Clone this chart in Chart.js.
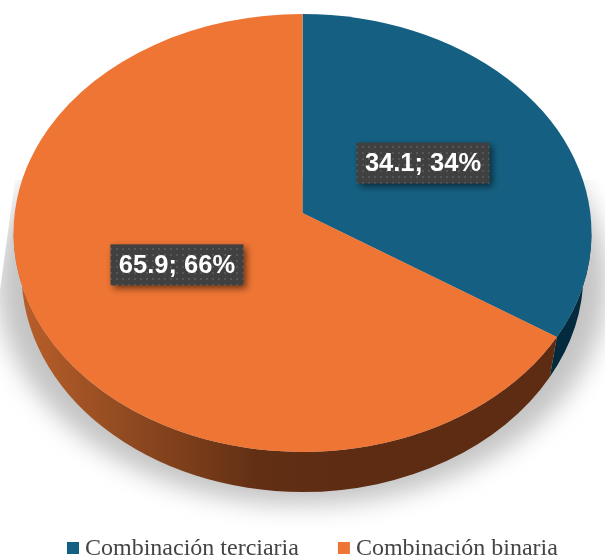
<!DOCTYPE html>
<html>
<head>
<meta charset="utf-8">
<style>
  html, body { margin: 0; padding: 0; background: #fff; overflow: hidden; }
  canvas { display: block; }
</style>
<script src="https://cdn.jsdelivr.net/npm/chart.js@4/dist/chart.umd.js"></script>
</head>
<body>
<canvas id="pie" width="605" height="556"></canvas>
<script>
const categories = ['Combinación terciaria', 'Combinación binaria'];
const values = [34.1, 65.9];
const colors = ['#156082', '#EF7534'];

// Top face of the tilted pie: an ellipse whose apex sits above its centre
const face = { cy: 233, rx: 289, ry: 219, apexY: 213 };
const wall = { cy: 273, rx: 281, ry: 219 };
const labelReach = 0.485;

// Walk from the apex along the slice direction until the ellipse rim
function rimAngle(angle) {
  const dx = Math.cos(angle) * face.rx;
  const dy = Math.sin(angle) * face.ry;
  const y0 = face.apexY - face.cy;
  const a = (dx / face.rx) ** 2 + (dy / face.ry) ** 2;
  const b = 2 * y0 * dy / (face.ry * face.ry);
  const c = (y0 / face.ry) ** 2 - 1;
  const t = (-b + Math.sqrt(b * b - 4 * a * c)) / (2 * a);
  return Math.atan2((y0 + t * dy) / face.ry, t * dx / face.rx);
}

function sliceSpan(arc) {
  const start = rimAngle(arc.startAngle);
  let end = rimAngle(arc.endAngle);
  if (end <= start) end += Math.PI * 2;
  return [start, end];
}

function drawFloorShadow(ctx, cx) {
  ctx.save();
  ctx.beginPath();
  ctx.moveTo(15, 180);
  ctx.lineTo(0, 290);
  ctx.lineTo(0, 556);
  ctx.lineTo(605, 556);
  ctx.lineTo(605, 180);
  ctx.closePath();
  ctx.clip();
  ctx.filter = 'blur(12px)';
  ctx.fillStyle = '#c4c4c4';
  ctx.beginPath();
  ctx.ellipse(cx, 283, 305, 222, 0, 0, Math.PI * 2);
  ctx.fill();
  ctx.restore();
}

function drawWall(ctx, cx, arc, index) {
  const [start, end] = sliceSpan(arc);
  const from = Math.max(start, 0);
  const to = Math.min(end, Math.PI);
  if (to <= from) return;

  const shade = ctx.createLinearGradient(13, 0, 340, 0);
  if (index === 0) {
    shade.addColorStop(0, '#042A3E');
    shade.addColorStop(1, '#042A3E');
  } else {
    shade.addColorStop(0, '#BC602B');
    shade.addColorStop(0.3, '#964D22');
    shade.addColorStop(0.75, '#622F14');
    shade.addColorStop(1, '#5D2C12');
  }
  ctx.fillStyle = shade;
  ctx.beginPath();
  ctx.ellipse(cx, face.cy, face.rx, face.ry, 0, from, to);
  ctx.ellipse(cx, wall.cy, wall.rx, wall.ry, 0, to, from, true);
  ctx.closePath();
  ctx.fill();
}

function drawFace(ctx, cx, arc) {
  const [start, end] = sliceSpan(arc);
  ctx.fillStyle = arc.options.backgroundColor;
  ctx.beginPath();
  ctx.moveTo(cx, face.apexY);
  ctx.ellipse(cx, face.cy, face.rx, face.ry, 0, start, end);
  ctx.closePath();
  ctx.fill();
}

function dotPattern(ctx) {
  const tile = document.createElement('canvas');
  tile.width = 6;
  tile.height = 6;
  const t = tile.getContext('2d');
  t.fillStyle = '#404040';
  t.fillRect(0, 0, 6, 6);
  t.fillStyle = '#565656';
  t.fillRect(2, 2, 2, 2);
  return ctx.createPattern(tile, 'repeat');
}

function drawValueLabel(ctx, cx, arc, value) {
  const mid = (arc.startAngle + arc.endAngle) / 2;
  const x = cx - 2.5 + Math.cos(mid) * face.rx * labelReach;
  const y = face.apexY + 1 + Math.sin(mid) * face.ry * labelReach;
  const text = value + '; ' + Math.round(value) + '%';
  const w = 133, h = 41;

  ctx.save();
  ctx.shadowColor = 'rgba(0,0,0,0.55)';
  ctx.shadowBlur = 7;
  ctx.shadowOffsetX = 3;
  ctx.shadowOffsetY = 3;
  ctx.fillStyle = dotPattern(ctx);
  ctx.fillRect(x - w / 2, y - h / 2, w, h);
  ctx.restore();

  ctx.fillStyle = '#fff';
  ctx.font = 'bold 25.5px "Liberation Sans"';
  ctx.textAlign = 'center';
  ctx.textBaseline = 'middle';
  ctx.fillText(text, x, y + 1);
}

// Legend row: square swatch, small gap, serif caption
function drawLegend(ctx, arcs) {
  let x = 67;
  ctx.save();
  ctx.font = '24px "Liberation Serif"';
  ctx.textAlign = 'left';
  ctx.textBaseline = 'alphabetic';
  categories.forEach((name, i) => {
    ctx.fillStyle = arcs[i].options.backgroundColor;
    ctx.fillRect(x, 542, 12, 12);
    ctx.fillStyle = '#444444';
    ctx.fillText(name, x + 18, 555);
    x += 18 + ctx.measureText(name).width + 39;
  });
  ctx.restore();
}

// The library lays the slices out; this plugin paints them as a tilted disc
const tiltedPie = {
  id: 'tiltedPie',
  beforeDatasetDraw(chart) {
    const ctx = chart.ctx;
    const arcs = chart.getDatasetMeta(0).data;
    const cx = arcs[0].x;
    drawFloorShadow(ctx, cx);
    arcs.forEach((arc, i) => drawWall(ctx, cx, arc, i));
    arcs.forEach(arc => drawFace(ctx, cx, arc));
    arcs.forEach((arc, i) => drawValueLabel(ctx, cx, arc, values[i]));
    drawLegend(ctx, arcs);
    return false;
  }
};

new Chart(document.getElementById('pie'), {
  type: 'pie',
  data: {
    labels: categories,
    datasets: [{
      data: values,
      backgroundColor: colors,
      borderWidth: 0
    }]
  },
  options: {
    responsive: false,
    animation: false,
    plugins: {
      tooltip: { enabled: false },
      legend: { display: false }
    }
  },
  plugins: [tiltedPie]
});
</script>
</body>
</html>
